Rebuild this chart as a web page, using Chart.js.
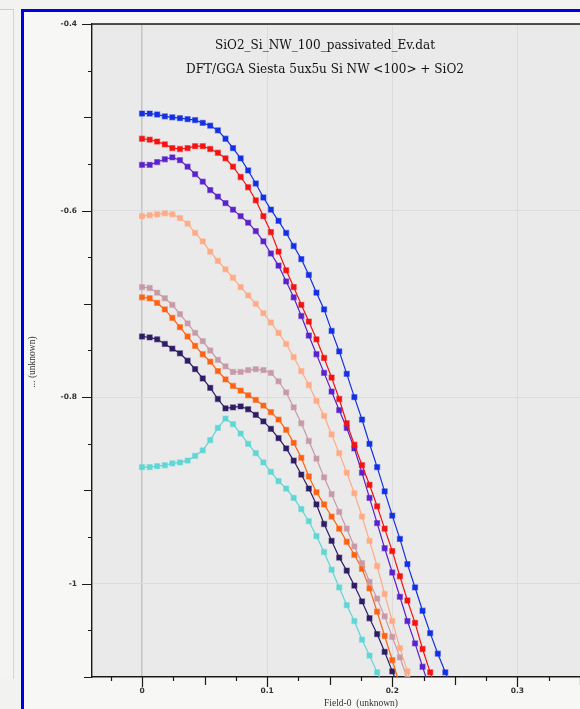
<!DOCTYPE html>
<html>
<head>
<meta charset="utf-8">
<title>SiO2_Si_NW_100_passivated_Ev.dat</title>
<script src="https://cdn.jsdelivr.net/npm/chart.js@4.4.1/dist/chart.umd.min.js"></script>
<style>
  html, body { margin: 0; padding: 0; }
  body { width: 580px; height: 709px; overflow: hidden; position: relative; background: #f2f2f1; }
  #sidepane { position: absolute; left: 0; top: 9px; width: 13px; height: 669px; background: #f4f4f3; border-top: 1px solid #cdcdcd; border-right: 1px solid #d4d4d4; }
  #frame { position: absolute; left: 21px; top: 9px; width: 700px; height: 720px; border-left: 3px solid #0000e2; border-top: 3px solid #0000e2; background: #f7f7f5; }
  #plot { position: absolute; left: 0; top: 1px; }
</style>
</head>
<body>
<div id="sidepane"></div>
<div id="frame"><canvas id="plot" width="640" height="696"></canvas></div>
<script>
// k-points along Field-0, shared by all bands
const kPath = [0, 0.0061, 0.0121, 0.0182, 0.0242, 0.0303, 0.0364, 0.0424, 0.0485, 0.0545,
  0.0606, 0.0667, 0.0727, 0.0788, 0.0848, 0.0909, 0.097, 0.103, 0.1091, 0.1152,
  0.1212, 0.1273, 0.1333, 0.1394, 0.1455, 0.1515, 0.1576, 0.1636, 0.1697, 0.1758,
  0.1818, 0.1879, 0.1939, 0.2, 0.2061, 0.2121, 0.2182, 0.2242, 0.2303, 0.2364,
  0.2424, 0.2485];

// valence band energies (top band first)
const ev1 = [-0.496, -0.496, -0.497, -0.499, -0.500, -0.501, -0.502, -0.503, -0.506, -0.509,
  -0.514, -0.523, -0.533, -0.544, -0.557, -0.571, -0.586, -0.599, -0.611, -0.624,
  -0.638, -0.652, -0.669, -0.688, -0.706, -0.729, -0.751, -0.775, -0.800, -0.824,
  -0.850, -0.875, -0.901, -0.927, -0.952, -0.979, -1.004, -1.029, -1.053, -1.075,
  -1.095, -1.115];
const ev2 = [-0.523, -0.524, -0.526, -0.529, -0.533, -0.534, -0.533, -0.531, -0.531, -0.534,
  -0.538, -0.544, -0.553, -0.564, -0.575, -0.589, -0.606, -0.623, -0.644, -0.664,
  -0.682, -0.701, -0.719, -0.738, -0.758, -0.779, -0.802, -0.828, -0.851, -0.873,
  -0.894, -0.917, -0.941, -0.965, -0.992, -1.018, -1.042, -1.070, -1.095, -1.119];
const ev3 = [-0.551, -0.551, -0.548, -0.545, -0.543, -0.546, -0.553, -0.561, -0.569, -0.578,
  -0.585, -0.592, -0.599, -0.606, -0.613, -0.622, -0.633, -0.646, -0.659, -0.676,
  -0.693, -0.713, -0.734, -0.754, -0.774, -0.794, -0.814, -0.833, -0.855, -0.881,
  -0.908, -0.935, -0.962, -0.988, -1.014, -1.040, -1.064, -1.089, -1.114];
const ev4 = [-0.606, -0.605, -0.604, -0.603, -0.604, -0.608, -0.614, -0.624, -0.633, -0.644,
  -0.654, -0.663, -0.672, -0.682, -0.691, -0.700, -0.710, -0.720, -0.731, -0.743,
  -0.757, -0.772, -0.787, -0.804, -0.820, -0.840, -0.860, -0.881, -0.903, -0.928,
  -0.954, -0.981, -1.011, -1.040, -1.069, -1.094, -1.119];
const ev5 = [-0.682, -0.683, -0.688, -0.694, -0.701, -0.711, -0.721, -0.731, -0.740, -0.750,
  -0.760, -0.767, -0.773, -0.773, -0.771, -0.770, -0.771, -0.774, -0.783, -0.795,
  -0.811, -0.828, -0.847, -0.866, -0.886, -0.904, -0.923, -0.941, -0.960, -0.978,
  -0.998, -1.016, -1.035, -1.057, -1.079, -1.102];
const ev6 = [-0.693, -0.694, -0.699, -0.706, -0.715, -0.725, -0.735, -0.745, -0.754, -0.762,
  -0.772, -0.781, -0.788, -0.793, -0.798, -0.803, -0.809, -0.816, -0.824, -0.835,
  -0.849, -0.865, -0.885, -0.902, -0.915, -0.928, -0.941, -0.955, -0.969, -0.984,
  -1.005, -1.030, -1.056, -1.082, -1.109];
const ev7 = [-0.735, -0.736, -0.738, -0.743, -0.748, -0.753, -0.761, -0.770, -0.780, -0.790,
  -0.802, -0.812, -0.811, -0.810, -0.813, -0.819, -0.826, -0.834, -0.844, -0.855,
  -0.868, -0.883, -0.898, -0.915, -0.936, -0.954, -0.972, -0.986, -1.002, -1.019,
  -1.037, -1.054, -1.073, -1.094, -1.114];
const ev8 = [-0.875, -0.875, -0.874, -0.873, -0.871, -0.870, -0.868, -0.863, -0.857, -0.846,
  -0.833, -0.823, -0.829, -0.839, -0.850, -0.860, -0.870, -0.880, -0.890, -0.898,
  -0.908, -0.920, -0.933, -0.949, -0.966, -0.985, -1.004, -1.023, -1.040, -1.060,
  -1.077, -1.095, -1.112];

const bands = [ev1, ev2, ev3, ev4, ev5, ev6, ev7, ev8];
const bandColors = ['#1430e4', '#f51212', '#5a22cc', '#ffab86', '#c79aa7', '#ff6212', '#2e1c64', '#60d6d5'];

const xTickLabels = [0, 0.1, 0.2, 0.3];
const yTickLabels = [-0.4, -0.6, -0.8, -1];

const titleLines = ['SiO2_Si_NW_100_passivated_Ev.dat', 'DFT/GGA Siesta 5ux5u Si NW <100> + SiO2'];
const xTitle = 'Field-0  (unknown)';
const yTitle = '... (unknown)';

function halo(hex, a) {
  const n = parseInt(hex.slice(1), 16);
  return `rgba(${n >> 16}, ${(n >> 8) & 255}, ${n & 255}, ${a})`;
}

const datasets = bands.map((vals, b) => ({
  data: vals.map((v, i) => ({ x: kPath[i], y: v })),
  borderColor: bandColors[b],
  backgroundColor: bandColors[b],
  borderWidth: 1.2,
  pointStyle: 'rect',
  pointRadius: 3.6,
  pointBackgroundColor: bandColors[b],
  pointBorderColor: halo(bandColors[b], 0.45),
  pointBorderWidth: 1.2,
  tension: 0
}));

//plot background, top frame line, minor ticks and titles
const frame = {
  id: 'frame',
  beforeDraw(chart) {
    const { ctx, chartArea: a } = chart;
    ctx.save();
    ctx.fillStyle = '#eaeaea';
    ctx.fillRect(a.left, a.top, a.right - a.left, a.bottom - a.top);
    ctx.restore();
  },
  afterDraw(chart) {
    const { ctx, chartArea: a, scales: { x, y } } = chart;
    ctx.save();
    ctx.strokeStyle = '#1a1a1a';
    ctx.lineWidth = 1.2;
    ctx.beginPath();
    // x ticks every 0.025, longer at 0.05 and 0.1
    for (let n = Math.ceil(x.min / 0.025); n * 0.025 <= x.max + 1e-9; n++) {
      const px = Math.round(x.getPixelForValue(n * 0.025)) + 0.5;
      const len = n % 4 === 0 ? 10 : n % 2 === 0 ? 8 : 4;
      ctx.moveTo(px, a.bottom);
      ctx.lineTo(px, a.bottom + len);
    }
    // y ticks every 0.05, longer at 0.1 and 0.2
    for (let n = Math.ceil(y.min / 0.05 - 1e-9); n * 0.05 <= y.max + 1e-9; n++) {
      const py = Math.round(y.getPixelForValue(n * 0.05)) + 0.5;
      const len = n % 4 === 0 ? 10 : n % 2 === 0 ? 8 : 4;
      ctx.moveTo(a.left, py);
      ctx.lineTo(a.left - len, py);
    }
    ctx.stroke();
    ctx.lineWidth = 1.4;
    ctx.beginPath();
    ctx.moveTo(a.left - 0.7, a.top);
    ctx.lineTo(a.right, a.top);
    ctx.stroke();

    ctx.fillStyle = '#111';
    ctx.textAlign = 'center';
    ctx.textBaseline = 'middle';
    ctx.font = '13.4px "DejaVu Serif"';
    ctx.fontStretch = 'condensed';
    ctx.fillText(titleLines[0], 301, 32.5);
    ctx.fillText(titleLines[1], 301, 56.5);
    ctx.fontStretch = 'normal';

    ctx.fillStyle = '#333';
    ctx.font = '9.5px "Liberation Serif"';
    ctx.fillText(xTitle, 337, 690);
    ctx.translate(8, 349);
    ctx.rotate(-Math.PI / 2);
    ctx.fillText(yTitle, 0, 0);
    ctx.restore();
  }
};

const tickFont = { family: 'DejaVu Sans', size: 7.5, weight: 'bold' };

new Chart(document.getElementById('plot'), {
  type: 'line',
  data: { datasets },
  options: {
    responsive: false,
    animation: false,
    layout: { padding: { top: 11, right: 34, left: 0, bottom: 0 } },
    plugins: { legend: { display: false }, tooltip: { enabled: false }, title: { display: false } },
    scales: {
      x: {
        type: 'linear',
        min: -0.04,
        max: 0.39,
        afterFit: s => { s.height = 32; },
        afterBuildTicks: s => { s.ticks = xTickLabels.map(v => ({ value: v })); },
        ticks: { padding: 10, color: '#333', font: tickFont, maxRotation: 0, autoSkip: false,
                 callback: v => String(+v.toFixed(2)) },
        grid: { drawTicks: false,
                color: c => c.tick && c.tick.value === 0 ? '#c4c4c4' : '#dcdcdc',
                lineWidth: c => c.tick && c.tick.value === 0 ? 1.5 : 1 },
        border: { color: '#1a1a1a', width: 1.4 }
      },
      y: {
        min: -1.1,
        max: -0.4,
        afterFit: s => { s.width = 68; s.paddingTop = 0; s.paddingBottom = 0; },
        afterBuildTicks: s => { s.ticks = yTickLabels.map(v => ({ value: v })); },
        ticks: { padding: 15, color: '#333', font: tickFont, autoSkip: false,
                 callback: v => String(+v.toFixed(2)) },
        grid: { drawTicks: false, color: '#dcdcdc' },
        border: { color: '#1a1a1a', width: 1.4 }
      }
    }
  },
  plugins: [frame]
});
</script>
</body>
</html>
